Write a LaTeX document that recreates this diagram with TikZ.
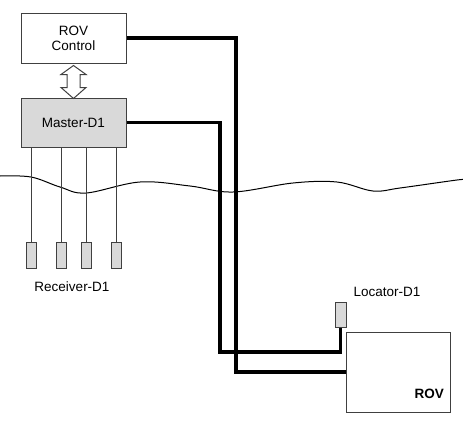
\documentclass[tikz,border=0pt]{standalone}
\usepackage{fontspec}
\setmainfont{Liberation Sans}
\usetikzlibrary{positioning,calc}
\definecolor{boxgray}{HTML}{D9D9D9}
\definecolor{edgegray}{HTML}{404040}

\begin{document}
\begin{tikzpicture}[
  x=1pt,y=-1pt,
  font=\fontsize{13.5}{15}\selectfont,
  box/.style={draw=edgegray,line width=1pt,fill=white,inner sep=0pt},
  unit/.style={box,fill=boxgray},
  probe/.style={unit,minimum width=10,minimum height=26},
  cable/.style={line width=3.6pt,miter limit=4},
  wire/.style={draw=edgegray,line width=1pt},
  dblarrow/.style={draw=edgegray,line width=1pt,fill=white,line join=miter}
]
\useasboundingbox (0,0) rectangle (463,423);
% surface
\draw[line width=1pt] plot[smooth,tension=0.6] coordinates {(0,176) (31,177) (60,187) (86,193) (140,182) (190,186) (233,192) (293,183) (337,182) (373,191) (400,188) (457,180) (463,180)};
% topside
\node[box,minimum width=105,minimum height=50,align=center] (ctrl) at (73.5,38) {ROV\\Control};
\node[unit,minimum width=105,minimum height=49] (master) at (73.5,122.5) {Master-D1};
\draw[dblarrow] ($(ctrl.south)+(0,2)$) -- ++(12.5,9) -- ++(-6,0) -- ++(0,13) -- ++(6,0)
  -- ++(-12.5,11) -- ++(-12.5,-11) -- ++(6,0) -- ++(0,-13) -- ++(-6,0) -- cycle;
% receivers
\foreach \i/\x in {1/31,2/61,3/86,4/116} {
  \node[probe] (rx\i) at (\x,255) {};
  \draw[wire] (rx\i.north) -- (master.south -| rx\i.north);
}
\node (rxlabel) at (72,287) {Receiver-D1};
% vehicle
\node[box,minimum width=104,minimum height=80] (rov) at (398,372) {};
\node[font=\fontsize{13.5}{15}\selectfont\bfseries,anchor=south east] (rovlabel) at ($(rov.south east)+(-3,-10)$) {ROV};
\node[unit,minimum width=11,minimum height=25] (loc) at (340.5,314.5) {};
\node (loclabel) at (387,292) {Locator-D1};
% cables
\draw[cable] (ctrl.east) -| (236,372) -- (rov.west);
\draw[cable] (master.east) -| (220,352) -| (loc.south);
\end{tikzpicture}
\end{document}
